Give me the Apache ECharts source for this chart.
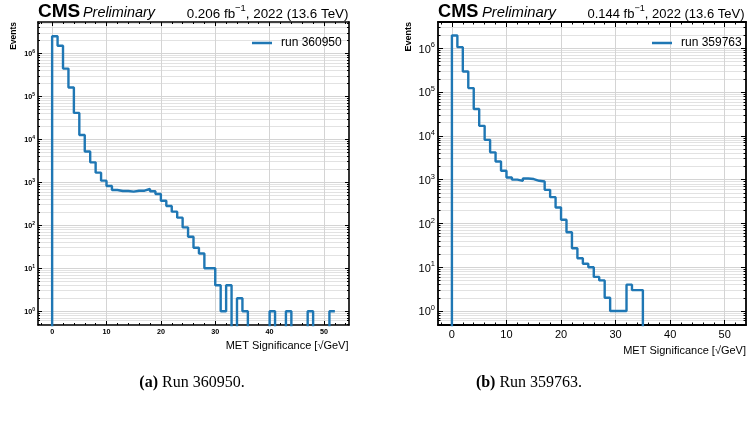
<!DOCTYPE html>
<html><head><meta charset="utf-8">
<script src="https://cdn.jsdelivr.net/npm/echarts@6/dist/echarts.min.js"></script>
<style>html,body{margin:0;padding:0;background:#fff}#c{width:748px;height:423px}</style>
</head><body><div id="c"></div>
<script>
// ---- data ----
const binEdges = [0,1,2,3,4,5,6,7,8,9,10,11,12,13,14,15,16,17,18,19,20,21,22,23,24,25,26,27,28,29,30,31,32,33,34,35,36,37,38,39,40,41,42,43,44,45,46,47,48,49,50,51,52];
const countsRun360950 = [2500000,1500000,440000,160000,41000,12600,5200,2900,1670,1090,820,660,625,625,605,635,635,697,615,533,372,280,207,150,89,54,30,22,10,10,4,1,4,0,2,1,0,0,0,0,1,0,0,1,0,0,0,1,0,0,0,1];
const countsRun359763 = [1950000,1060000,294000,123000,41000,16900,8100,4200,2600,1590,1120,1000,940,1060,1030,940,905,585,398,231,121,63,27,16,12,10,6,5,2,1,1,1,4,3,3,0,0,0,0,0,0,0,0,0,0,0,0,0,0,0,0,0];
const seriesNames = ['run 360950','run 359763'];
const lumiA = '0.206 fb'; const lumiB = '0.144 fb';
const xMajorTicks = [0,10,20,30,40,50];
const xMinorTicks = [-2,2,4,6,8,12,14,16,18,22,24,26,28,32,34,36,38,42,44,46,48,52,54];
const yMajorTicks = [1,10,100,1000,10000,100000,1000000];
const yMinorTicks = [];
for (let e = -1; e <= 6; e++) for (let m = 2; m <= 9; m++) yMinorTicks.push(m * Math.pow(10, e));

const FONT = '"Liberation Sans", Arial, Helvetica, sans-serif';
const SERIF = '"Liberation Serif", "Times New Roman", serif';
const BLUE = '#1f77b4';
const FLOOR = 1e-3; // empty bins: below the visible range (log of 0)

function stepData(counts) {
  const pts = [[binEdges[0], FLOOR]];
  counts.forEach((c, i) => pts.push([binEdges[i], c > 0 ? c : FLOOR]));
  const last = counts[counts.length - 1];
  pts.push([binEdges[counts.length], last > 0 ? last : FLOOR]);
  return pts;
}

const panels = [
  {left: 38, width: 311, xmin: -2.6, xmax: 54.6, ymin: Math.pow(10,-0.321), ymax: Math.pow(10,6.728),
   fs: 7.2, sfs: 5, bold: 'bold', lw: 1.6, maj: 4, min: 2, lmargin: 3, counts: countsRun360950},
  {left: 438, width: 308, xmin: -2.55, xmax: 53.9, ymin: Math.pow(10,-0.32), ymax: Math.pow(10,6.60),
   fs: 11, sfs: 7.5, bold: 'normal', lw: 1.8, maj: 5, min: 2.5, lmargin: 3, counts: countsRun359763}
];

const grids = [], xAxes = [], yAxes = [], series = [];
panels.forEach((p, gi) => {
  grids.push({left: p.left, top: 22, width: p.width, height: 303, containLabel: false});
  const baseX = {type: 'value', gridIndex: gi, min: p.xmin, max: p.xmax, axisPointer: {show: false}};
  const lineSt = {show: true, onZero: false, lineStyle: {color: '#000', width: p.lw}};
  xAxes.push(Object.assign({}, baseX, {position: 'bottom', axisLine: lineSt,
    axisTick: {show: true, inside: true, length: p.maj, customValues: xMajorTicks, lineStyle: {color: '#000', width: 1}},
    axisLabel: {show: true, customValues: xMajorTicks, margin: 4, fontSize: p.fs, fontWeight: p.bold, fontFamily: FONT, color: '#000'},
    splitLine: {show: true, lineStyle: {color: '#d4d4d4', width: 1}}}));
  xAxes.push(Object.assign({}, baseX, {position: 'bottom', axisLine: {show: false, onZero: false},
    axisTick: {show: true, inside: true, length: p.min, customValues: xMinorTicks, lineStyle: {color: '#000', width: 1}},
    axisLabel: {show: false}, splitLine: {show: false}}));
  xAxes.push(Object.assign({}, baseX, {position: 'top', axisLine: lineSt,
    axisTick: {show: true, inside: true, length: p.maj, customValues: xMajorTicks, lineStyle: {color: '#000', width: 1}},
    axisLabel: {show: false}, splitLine: {show: false}}));
  xAxes.push(Object.assign({}, baseX, {position: 'top', axisLine: {show: false, onZero: false},
    axisTick: {show: true, inside: true, length: p.min, customValues: xMinorTicks, lineStyle: {color: '#000', width: 1}},
    axisLabel: {show: false}, splitLine: {show: false}}));

  const baseY = {type: 'log', logBase: 10, gridIndex: gi, min: p.ymin, max: p.ymax, axisPointer: {show: false}};
  yAxes.push(Object.assign({}, baseY, {position: 'left', axisLine: lineSt,
    axisTick: {show: true, inside: true, length: p.maj, customValues: yMajorTicks, lineStyle: {color: '#000', width: 1}},
    axisLabel: {show: true, customValues: yMajorTicks, margin: p.lmargin, color: '#000',
      formatter: v => '{b|10}{s|' + Math.round(Math.log10(v)) + '}',
      rich: {b: {fontSize: p.fs, fontWeight: p.bold, fontFamily: FONT, color: '#000', verticalAlign: 'bottom', lineHeight: p.fs * 1.25},
             s: {fontSize: p.sfs, fontWeight: p.bold, fontFamily: FONT, color: '#000', verticalAlign: 'top'}}},
    splitLine: {show: true, lineStyle: {color: '#d4d4d4', width: 1}}}));
  yAxes.push(Object.assign({}, baseY, {position: 'left', axisLine: {show: false, onZero: false},
    axisTick: {show: true, inside: true, length: p.min, customValues: yMinorTicks, lineStyle: {color: '#000', width: 1}},
    axisLabel: {show: false},
    splitLine: {show: true, lineStyle: {color: '#e2e2e2', width: 1}}}));
  yAxes.push(Object.assign({}, baseY, {position: 'right', axisLine: lineSt,
    axisTick: {show: true, inside: true, length: p.maj, customValues: yMajorTicks, lineStyle: {color: '#000', width: 1}},
    axisLabel: {show: false}, splitLine: {show: false}}));
  yAxes.push(Object.assign({}, baseY, {position: 'right', axisLine: {show: false, onZero: false},
    axisTick: {show: true, inside: true, length: p.min, customValues: yMinorTicks, lineStyle: {color: '#000', width: 1}},
    axisLabel: {show: false}, splitLine: {show: false}}));

  series.push({type: 'line', name: seriesNames[gi], xAxisIndex: gi * 4, yAxisIndex: gi * 4,
    data: stepData(p.counts), step: 'end', showSymbol: false, symbol: 'none', clip: true,
    lineStyle: {color: BLUE, width: 2.4}, itemStyle: {color: BLUE}, z: 5});
});

function txt(x, y, text, opts) {
  return Object.assign({type: 'text', x: x, y: y, silent: true,
    style: Object.assign({text: text, fill: '#000', align: 'left', verticalAlign: 'middle'}, opts.style)}, opts.el || {});
}
function lumiRich(fs) {
  return {t: {fontSize: fs, fontFamily: FONT, color: '#000', verticalAlign: 'bottom', lineHeight: fs * 1.3},
          s: {fontSize: fs * 0.7, fontFamily: FONT, color: '#000', verticalAlign: 'top'}};
}
const graphics = [
  txt(38, 11.7, 'CMS', {style: {font: 'bold 19px ' + FONT}}),
  txt(83, 13, 'Preliminary', {style: {font: 'italic 14.4px ' + FONT}}),
  txt(348.5, 12.5, '{t|' + lumiA + '}{s|\u22121}{t|, 2022 (13.6 TeV)}', {style: {align: 'right', rich: lumiRich(13.4)}}),
  txt(438, 11.7, 'CMS', {style: {font: 'bold 18.2px ' + FONT}}),
  txt(482, 13, 'Preliminary', {style: {font: 'italic 14.8px ' + FONT}}),
  txt(744.5, 12.5, '{t|' + lumiB + '}{s|\u22121}{t|, 2022 (13.6 TeV)}', {style: {align: 'right', rich: lumiRich(13)}}),
  txt(14, 22, 'Events', {style: {align: 'right', font: 'bold 8.5px ' + FONT}, el: {rotation: Math.PI / 2}}),
  txt(409, 22, 'Events', {style: {align: 'right', font: 'bold 9px ' + FONT}, el: {rotation: Math.PI / 2}}),
  txt(348.5, 346, 'MET Significance [\u221AGeV]', {style: {align: 'right', font: '11px ' + FONT}}),
  txt(746, 351, 'MET Significance [\u221AGeV]', {style: {align: 'right', font: '11px ' + FONT}}),
  txt(192, 383, '{a|(a)}{r| Run 360950.}', {style: {align: 'center', rich: {
    a: {fontSize: 16, fontWeight: 'bold', fontFamily: SERIF, color: '#000'}, r: {fontSize: 16, fontFamily: SERIF, color: '#000'}}}}),
  txt(529, 383, '{a|(b)}{r| Run 359763.}', {style: {align: 'center', rich: {
    a: {fontSize: 16, fontWeight: 'bold', fontFamily: SERIF, color: '#000'}, r: {fontSize: 16, fontFamily: SERIF, color: '#000'}}}})
];

const legendBase = {orient: 'horizontal', icon: 'rect', itemWidth: 20, itemHeight: 2.5, itemGap: 0,
  textStyle: {fontSize: 12, fontFamily: FONT, color: '#000', padding: [0, 0, 0, 4]}, selectedMode: false};
const chart = echarts.init(document.getElementById('c'), null, {renderer: 'canvas'});
chart.setOption({
  animation: false,
  backgroundColor: '#fff',
  grid: grids, xAxis: xAxes, yAxis: yAxes, series: series,
  legend: [Object.assign({}, legendBase, {data: [seriesNames[0]], left: 247, top: 32}),
           Object.assign({}, legendBase, {data: [seriesNames[1]], left: 647, top: 32})],
  graphic: graphics
});
</script></body></html>
